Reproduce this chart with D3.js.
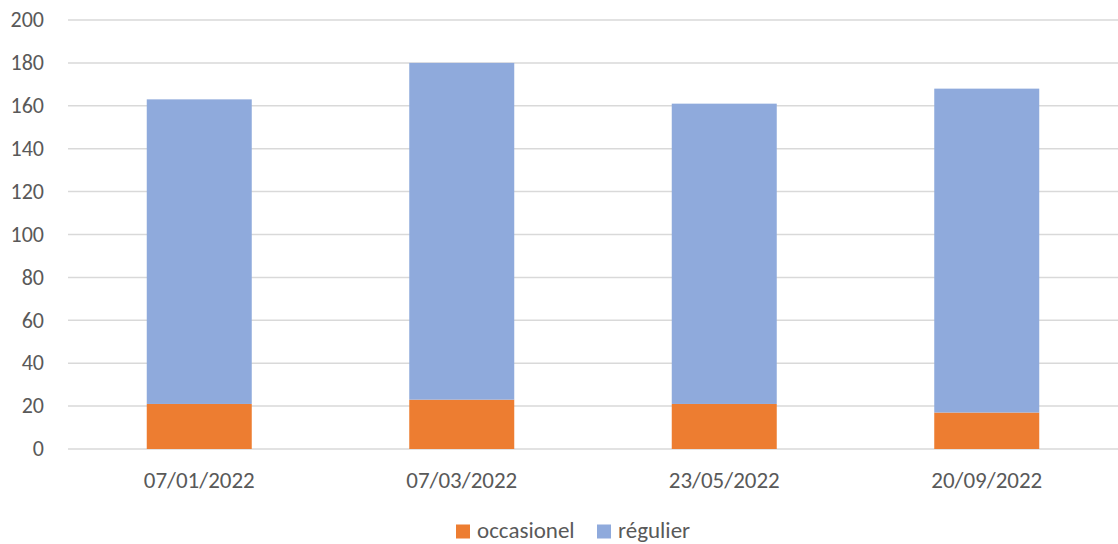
<!DOCTYPE html>
<html><head><meta charset="utf-8">
<script src="https://cdn.jsdelivr.net/npm/d3@7"></script>
<style>body{margin:0;background:#fff}svg{display:block}</style>
</head><body>
<svg id="c" width="1118" height="544"></svg>
<script>
const categories = ["07/01/2022","07/03/2022","23/05/2022","20/09/2022"];
const occasionel = [21, 23, 21, 17];
const regulier = [142, 157, 140, 151];
const seriesNames = ["occasionel","régulier"];
const seriesColors = ["#ED7D31","#8FAADC"];
const yTicks = [0,20,40,60,80,100,120,140,160,180,200];

const svg = d3.select("#c");
const font = "Carlito, Calibri, 'Open Sans', sans-serif";
const x = d3.scaleBand().domain(categories).range([68,1118]).paddingInner(0.6).paddingOuter(0.3);
const y = d3.scaleLinear().domain([0,200]).range([449,20]);

const data = categories.map((c,i)=>({cat:c, occasionel:occasionel[i], "régulier":regulier[i]}));
const stack = d3.stack().keys(seriesNames)(data);

// gridlines
svg.append("g").selectAll("line").data(yTicks).join("line")
  .attr("x1",68).attr("x2",1118)
  .attr("y1",d=>y(d)).attr("y2",d=>y(d))
  .attr("stroke","#d9d9d9").attr("stroke-width",1.5);

// y labels
svg.append("g").selectAll("text").data(yTicks).join("text")
  .attr("x",44).attr("y",d=>y(d)).attr("dy","0.33em")
  .attr("text-anchor","end").attr("fill","#595959")
  .attr("font-family",font).attr("font-size",22).text(d=>d);

// bars
svg.append("g").selectAll("g").data(stack).join("g")
  .attr("fill",(d,i)=>seriesColors[i])
  .selectAll("rect").data(d=>d).join("rect")
  .attr("x",d=>x(d.data.cat)).attr("width",x.bandwidth())
  .attr("y",d=>y(d[1])).attr("height",d=>y(d[0])-y(d[1]));

// x labels
svg.append("g").selectAll("text").data(categories).join("text")
  .attr("x",d=>x(d)+x.bandwidth()/2).attr("y",488)
  .attr("text-anchor","middle").attr("fill","#595959")
  .attr("font-family",font).attr("font-size",23).text(d=>d);

// legend
const legX = [456, 597];
const leg = svg.append("g").selectAll("g").data(seriesNames).join("g")
  .attr("transform",(d,i)=>`translate(${legX[i]},0)`);
leg.append("rect").attr("x",0).attr("y",524.5).attr("width",14).attr("height",14)
  .attr("fill",(d,i)=>seriesColors[i]);
leg.append("text").attr("x",21).attr("y",538).attr("fill","#595959")
  .attr("font-family",font).attr("font-size",23).text(d=>d);
</script>
</body></html>
